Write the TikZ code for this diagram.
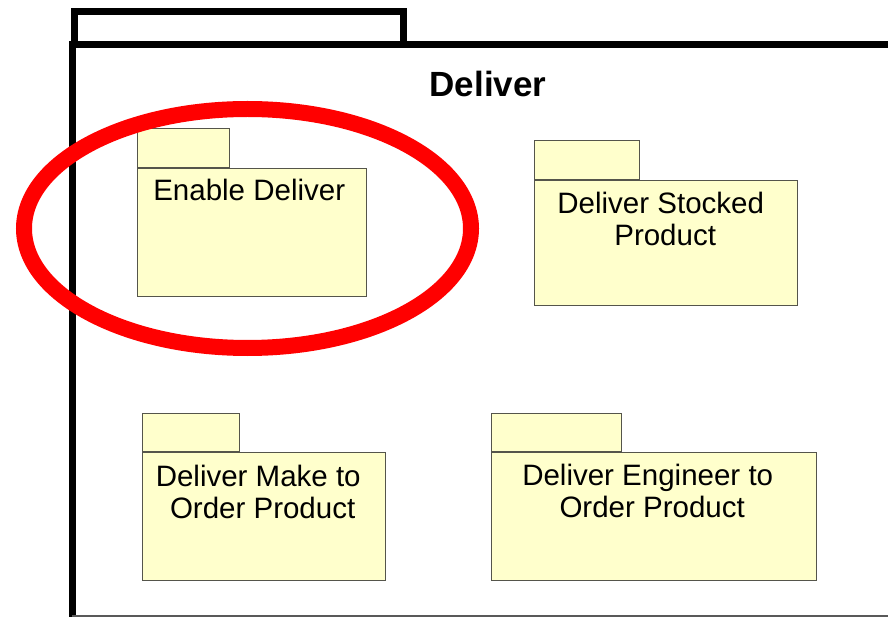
\documentclass[tikz,border=0pt]{standalone}
\usepackage{fontspec}
\setmainfont{Liberation Sans}
\definecolor{pkgfill}{RGB}{255,255,204}
\definecolor{pkgline}{RGB}{85,85,75}
% trailing gap after a centred first line
\newcommand{\tailgap}{\hspace*{0.3em}}
\begin{document}
\begin{tikzpicture}[x=1pt,y=-1pt,
  pkgbody/.style={draw=pkgline, line width=1.3pt, fill=pkgfill, anchor=north west, inner sep=0pt},
  pkgtab/.style={draw=pkgline, line width=1.3pt, fill=pkgfill, anchor=south west, inner sep=0pt},
  pkgtext/.style={anchor=north, align=center, inner sep=0pt, font=\fontsize{29.5}{32}\selectfont},
  frameline/.style={line width=7pt, draw=black},
  title/.style={anchor=base, inner sep=0pt, font=\fontsize{35}{40}\selectfont\bfseries}]
\useasboundingbox (0,0) rectangle (888,617);

% outer package frame and its tab
\draw[frameline] (74.5,44.5) |- (403.5,11.5) -- (403.5,44.5);
\draw[frameline, line join=miter] (72,617) -- (72,44.5) -- (888,44.5);
\draw[draw=black!65, line width=2pt] (72,615.5) -- (888,615.5);
\node[title] (title) at (488,96.7) {Deliver};

% Enable Deliver
\node[pkgbody, minimum width=229pt, minimum height=128pt] (ed) at (137,168) {};
\node[pkgtab, minimum width=92pt, minimum height=39pt] (edtab) at (ed.north west) {};
\node[pkgtext] (edtext) at ([xshift=1.5pt,yshift=-11pt]ed.north) {Enable Deliver\tailgap};

% Deliver Stocked Product
\node[pkgbody, minimum width=263pt, minimum height=125pt] (dsp) at (534,180) {};
\node[pkgtab, minimum width=105pt, minimum height=39pt] (dsptab) at (dsp.north west) {};
\node[pkgtext] (dsptext) at ([xshift=-1pt,yshift=-12pt]dsp.north) {Deliver Stocked\tailgap\\Product};

% Deliver Make to Order Product
\node[pkgbody, minimum width=243pt, minimum height=128pt] (dmo) at (142,452) {};
\node[pkgtab, minimum width=97pt, minimum height=38pt] (dmotab) at (dmo.north west) {};
\node[pkgtext] (dmotext) at ([xshift=-1.5pt,yshift=-13pt]dmo.north) {Deliver Make to\tailgap\\Order Product};

% Deliver Engineer to Order Product
\node[pkgbody, minimum width=325pt, minimum height=128pt] (deo) at (491,452) {};
\node[pkgtab, minimum width=130pt, minimum height=38pt] (deotab) at (deo.north west) {};
\node[pkgtext] (deotext) at ([xshift=-2pt,yshift=-12pt]deo.north) {Deliver Engineer to\tailgap\\Order Product};

% highlight ring
\draw[red, line width=16pt] (247.5,228.5) ellipse [x radius=223.5pt, y radius=119.5pt];
\end{tikzpicture}
\end{document}
